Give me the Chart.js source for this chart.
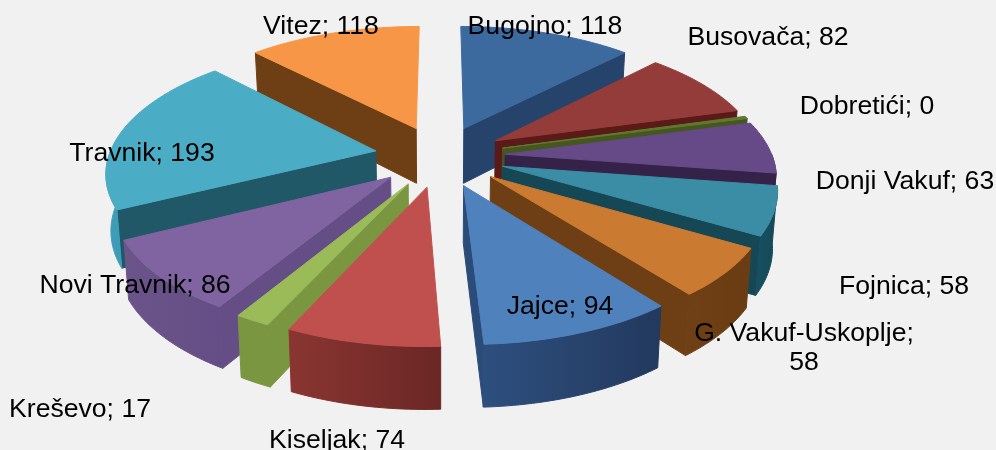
<!DOCTYPE html>
<html>
<head>
<meta charset="utf-8">
<script src="https://cdn.jsdelivr.net/npm/chart.js@4"></script>
<style>
  html, body { margin: 0; padding: 0; background: #f1f1f1; }
  canvas { display: block; }
</style>
</head>
<body>
<canvas id="myPieChart" width="996" height="450"></canvas>
<script>
const categories = ["Bugojno", "Busovača", "Dobretići", "Donji Vakuf", "Fojnica", "G. Vakuf-Uskoplje",
  "Jajce", "Kiseljak", "Kreševo", "Novi Travnik", "Travnik", "Vitez"];
const values = [118, 82, 0, 63, 58, 58, 94, 74, 17, 86, 193, 118];

const topColors = ["#3c699e", "#943c39", "#5f7a30", "#664a87", "#3a8da5", "#cb7a31",
  "#4f81bd", "#c0504d", "#9bbb59", "#8064a2", "#4bacc6", "#f79646"];
const faceColors = ["#25436b", "#5a1a18", "#46561f", "#352248", "#164755", "#6e3f14",
  "#2b4c78", "#8a3532", "#7a9640", "#654e85", "#215868", "#6e3f15"];
const wallColors = ["#25436b", "#5a1a18", "#46561f", "#352248", "#164f60", "#6f4015",
  "#2d4f7e", "#8a3532", "#7a9640", "#6b5489", "#3e9db6", "#6e3f15"];
const wallEndColors = ["#25436b", "#5a1a18", "#46561f", "#352248", "#164755", "#6a3c13",
  "#23395e", "#6b2725", "#7a9640", "#654e85", "#3e9db6", "#6e3f15"];

// label anchors: centre x, middle y
const labelSpots = [[545, 27], [768, 38], [867, 107], [905, 182], [904, 287], [804, 334],
  [560, 307], [337, 441], [80, 410], [135, 286], [142, 154], [321, 27]];

// fake 3D camera, fitted to the picture
const view = { cx: 440, cy: 156, rx: 267, ry: 125, persp: 0.15, explode: 0.245, depth: 56 };
const MIN_SWEEP = 0.02; // a zero slice still shows as a sliver

function project(u, v, z) {
  const s = 1 / (1 - view.persp * v);
  return {
    x: view.cx + u * view.rx * s * (1 - 0.015 * z),
    y: view.cy + v * view.ry * s + z * view.depth * (1 + 0.1 * v),
  };
}

function tracePoly(ctx, pts, color) {
  ctx.beginPath();
  pts.forEach((p, i) => (i ? ctx.lineTo(p.x, p.y) : ctx.moveTo(p.x, p.y)));
  ctx.closePath();
  ctx.fillStyle = color;
  ctx.strokeStyle = color;
  ctx.lineWidth = 1;
  ctx.fill();
  ctx.stroke();
}

function drawSlice(ctx, arc, i) {
  let a0 = arc.startAngle + Math.PI / 2;
  let a1 = arc.endAngle + Math.PI / 2;
  if (a1 - a0 < MIN_SWEEP) { a0 -= MIN_SWEEP / 2; a1 += MIN_SWEEP / 2; }
  const mid = (a0 + a1) / 2;
  const ou = Math.sin(mid) * view.explode;
  const ov = -Math.cos(mid) * view.explode;
  const rim = (a, z) => project(ou + Math.sin(a), ov - Math.cos(a), z);
  const apex = (z) => project(ou, ov, z);

  // cut faces, only the ones turned to the viewer
  if (-Math.cos(a0 - Math.PI / 2) > 0) {
    tracePoly(ctx, [apex(0), rim(a0, 0), rim(a0, 1), apex(1)], faceColors[i]);
  }
  if (-Math.cos(a1 + Math.PI / 2) > 0) {
    tracePoly(ctx, [apex(0), rim(a1, 0), rim(a1, 1), apex(1)], faceColors[i]);
  }

  // curved wall, front half only
  const w0 = Math.max(a0, Math.PI / 2);
  const w1 = Math.min(a1, Math.PI * 1.5);
  if (w1 > w0) {
    const topEdge = [];
    const lowEdge = [];
    for (let a = w0; a < w1; a += 0.02) {
      topEdge.push(rim(a, 0));
      lowEdge.unshift(rim(a, 1));
    }
    topEdge.push(rim(w1, 0));
    lowEdge.unshift(rim(w1, 1));
    const grad = ctx.createLinearGradient(topEdge[0].x, 0, topEdge[topEdge.length - 1].x, 0);
    grad.addColorStop(0, wallEndColors[i]);
    grad.addColorStop(1, wallColors[i]);
    tracePoly(ctx, topEdge.concat(lowEdge), grad);
  }

  // top surface
  const top = [apex(0)];
  for (let a = a0; a < a1; a += 0.02) top.push(rim(a, 0));
  top.push(rim(a1, 0));
  tracePoly(ctx, top, arc.options.backgroundColor);
}

const pie3d = {
  id: "pie3d",
  beforeDatasetsDraw(chart) {
    const ctx = chart.ctx;
    const arcs = chart.getDatasetMeta(0).data.map((arc, i) => ({ arc, i }));
    // back slices first
    arcs.sort((a, b) => {
      const ca = Math.sin((a.arc.startAngle + a.arc.endAngle) / 2);
      const cb = Math.sin((b.arc.startAngle + b.arc.endAngle) / 2);
      return ca - cb;
    });
    ctx.save();
    arcs.forEach((s) => drawSlice(ctx, s.arc, s.i));
    ctx.restore();
    return false;
  },
  afterDraw(chart) {
    const ctx = chart.ctx;
    ctx.save();
    ctx.font = '26.6px "Liberation Sans", Arial, sans-serif';
    ctx.fillStyle = "#000";
    ctx.textAlign = "center";
    ctx.textBaseline = "middle";
    categories.forEach((name, i) => {
      const [x, y] = labelSpots[i];
      if (name === "G. Vakuf-Uskoplje") {
        ctx.fillText(name + ";", x, y);
        ctx.fillText(String(values[i]), x, y + 29);
      } else {
        ctx.fillText(name + "; " + values[i], x, y);
      }
    });
    ctx.restore();
  },
};

document.addEventListener("DOMContentLoaded", function () {
  const ctxPie = document.getElementById("myPieChart").getContext("2d");
  new Chart(ctxPie, {
    type: "pie",
    data: {
      labels: categories,
      datasets: [{ data: values, backgroundColor: topColors, borderWidth: 0 }],
    },
    options: {
      responsive: false,
      animation: false,
      plugins: { legend: { display: false }, tooltip: { enabled: false } },
    },
    plugins: [pie3d],
  });
});
</script>
</body>
</html>
